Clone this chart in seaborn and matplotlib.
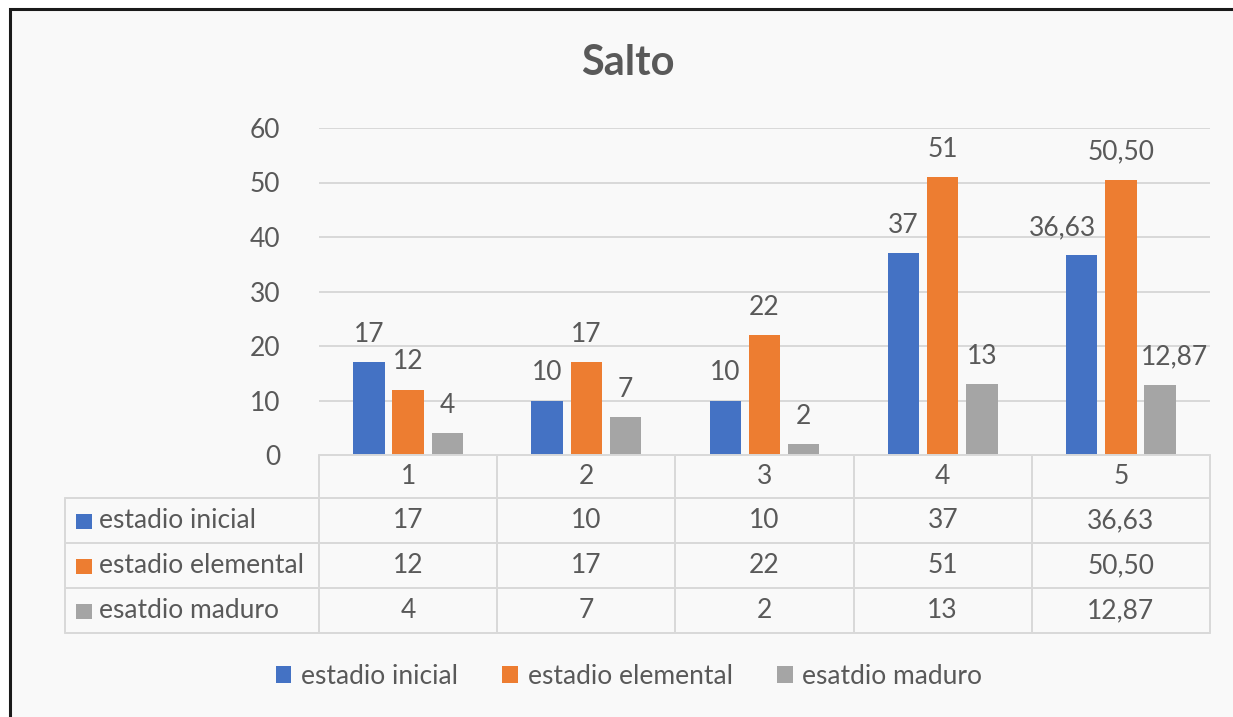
import matplotlib
matplotlib.use("Agg")
import matplotlib.pyplot as plt
import matplotlib.transforms as mtransforms
from matplotlib.patches import Rectangle, Patch
from matplotlib.lines import Line2D
import seaborn as sns
import pandas as pd

# ---------------- data ----------------
categories = ["1", "2", "3", "4", "5"]
series_names = ["estadio inicial", "estadio elemental", "esatdio maduro"]
inicial = [17, 10, 10, 37, 36.63]
elemental = [12, 17, 22, 51, 50.50]
maduro = [4, 7, 2, 13, 12.87]
inicial_lbl = ["17", "10", "10", "37", "36,63"]
elemental_lbl = ["12", "17", "22", "51", "50,50"]
maduro_lbl = ["4", "7", "2", "13", "12,87"]
yticks = [0, 10, 20, 30, 40, 50, 60]
title = "Salto"
colors = ["#4472C4", "#ED7D31", "#A5A5A5"]

values = [inicial, elemental, maduro]
labels = [inicial_lbl, elemental_lbl, maduro_lbl]

rows = []
for s, vals in zip(series_names, values):
    for c, v in zip(categories, vals):
        rows.append({"cat": c, "value": v, "series": s})
df = pd.DataFrame(rows)

# ---------------- style ----------------
sns.set_theme(style="white")
plt.rcParams['font.family'] = ['Lato', 'DejaVu Sans']
TXT = "#595959"
GRID = "#d9d9d9"
FS = 19

W, H = 1233, 717
fig = plt.figure(figsize=(W / 100, H / 100), dpi=100, facecolor="white")

def fx(px):
    return px / W

def fy(py):
    return 1 - py / H

# chart area background + border
fig.patches.append(Rectangle((fx(10), fy(730)), fx(1250) - fx(10), (730 - 9) / H,
                             transform=fig.transFigure, facecolor="#f9f9f9",
                             edgecolor="#1a1a1a", lw=2.2, zorder=-5))

ax = fig.add_axes([fx(319), fy(455), fx(1210) - fx(319), (455 - 128) / H])
ax.set_facecolor("none")
ax.set_zorder(2)

sns.barplot(data=df, x="cat", y="value", hue="series", order=categories,
            hue_order=series_names, palette=colors, width=0.66, gap=0.2,
            saturation=1, legend=False, ax=ax, edgecolor="none")

ax.set_xlim(-0.5, len(categories) - 0.5)
ax.set_ylim(0, 60)
ax.set_yticks(yticks)
ax.yaxis.grid(True, color=GRID, lw=1.4)
ax.set_axisbelow(True)
for sp in ax.spines.values():
    sp.set_visible(False)
ax.tick_params(axis='y', length=0, pad=28, labelsize=FS, labelcolor=TXT)
ax.set_xticks([])
ax.set_xlabel("")
ax.set_ylabel("")

# data labels
PAD = 11
nudges = {(0, 4): -14, (2, 4): 10}
for si, cont in enumerate(ax.containers):
    texts = ax.bar_label(cont, labels=labels[si], padding=PAD, fontsize=FS, color=TXT)
    for ci, t in enumerate(texts):
        if (si, ci) in nudges:
            t.xyann = (nudges[(si, ci)], PAD)

# ---------------- data table ----------------
trans = mtransforms.blended_transform_factory(ax.transData, fig.transFigure)
row_edges = [455, 498, 543, 588, 633]
n = len(categories)
lw = 1.4
ax.add_line(Line2D([-0.5, n - 0.5], [fy(row_edges[0])] * 2, transform=trans,
                   color=GRID, lw=lw, clip_on=False))
for ye in row_edges[1:]:
    fig.add_artist(Line2D([fx(65), fx(319)], [fy(ye)] * 2, transform=fig.transFigure,
                          color=GRID, lw=lw))
    ax.add_line(Line2D([-0.5, n - 0.5], [fy(ye)] * 2, transform=trans,
                       color=GRID, lw=lw, clip_on=False))
for i in range(n + 1):
    ax.add_line(Line2D([i - 0.5, i - 0.5], [fy(455), fy(633)], transform=trans,
                       color=GRID, lw=lw, clip_on=False))
fig.add_artist(Line2D([fx(65), fx(65)], [fy(498), fy(633)], transform=fig.transFigure,
                      color=GRID, lw=lw))

hc = (row_edges[0] + row_edges[1]) / 2
for i, c in enumerate(categories):
    ax.text(i, fy(hc), c, transform=trans, ha="center", va="center",
            fontsize=FS, color=TXT, clip_on=False)
for r, (s, lbls, col) in enumerate(zip(series_names, labels, colors)):
    yc = (row_edges[r + 1] + row_edges[r + 2]) / 2
    fig.patches.append(Rectangle((fx(76), fy(yc + 8)), 16 / W, 15 / H,
                                 transform=fig.transFigure, facecolor=col,
                                 edgecolor="none"))
    fig.text(fx(99), fy(yc), s, ha="left", va="center", fontsize=FS, color=TXT)
    for i, l in enumerate(lbls):
        ax.text(i, fy(yc), l, transform=trans, ha="center", va="center",
                fontsize=FS, color=TXT, clip_on=False)

# legend
handles = [Patch(facecolor=c, edgecolor="none", label=s) for s, c in zip(series_names, colors)]
fig.legend(handles=handles, loc="center", bbox_to_anchor=(fx(629), fy(676)), ncol=3,
           frameon=False, fontsize=FS, labelcolor=TXT, handlelength=0.6,
           handleheight=0.6, handletextpad=0.35, columnspacing=1.7)

fig.text(fx(628), fy(63), title, ha="center", va="center", fontsize=30,
         fontweight="bold", color=TXT)

fig.savefig("out.png", dpi=100, facecolor="white")
